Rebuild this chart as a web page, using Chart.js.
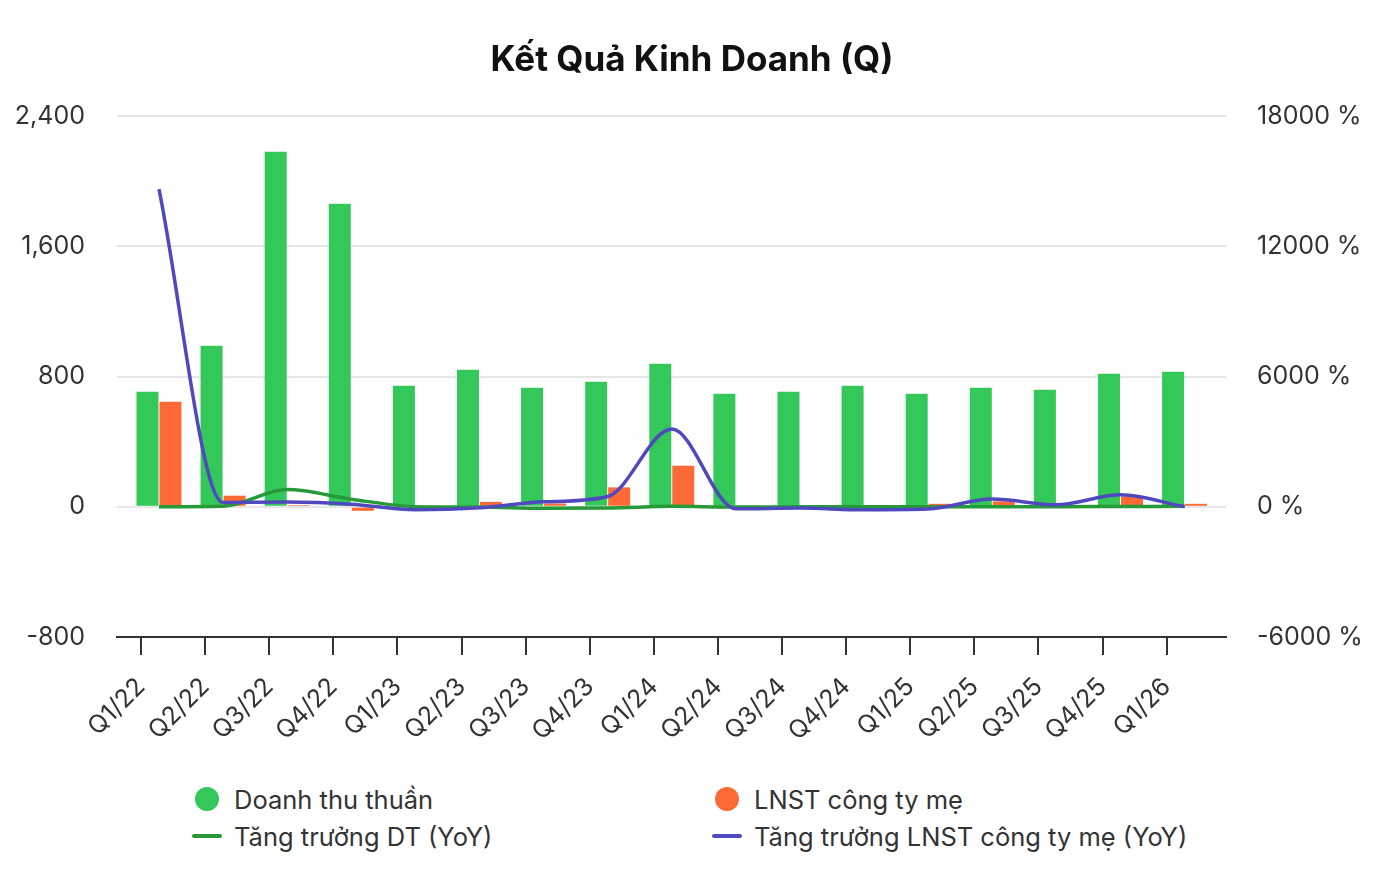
<!DOCTYPE html>
<html>
<head>
<meta charset="utf-8">
<script src="https://cdn.jsdelivr.net/npm/chart.js@4.4.1/dist/chart.umd.min.js"></script>
<style>
  body { margin: 0; background: #fff; font-family: Inter, "Noto Sans", sans-serif; }
  #wrap { position: relative; width: 1384px; height: 896px; }
  #box { position: absolute; left: 0; top: 0; width: 1384px; height: 760px; }
  #legend {
    position: absolute; left: 192px; top: 785px;
    display: grid; grid-template-columns: 520px auto; row-gap: 9px;
    font-size: 25.5px; color: #333;
  }
  .item { display: flex; align-items: center; height: 28px; white-space: nowrap; }
  .mark { width: 30px; margin-right: 12px; display: flex; justify-content: center; align-items: center; }
  .dot { width: 24px; height: 24px; border-radius: 50%; }
  .dash { width: 30px; height: 4px; border-radius: 2px; }
</style>
</head>
<body>
<div id="wrap">
  <div id="box"><canvas id="chart"></canvas></div>
  <div id="legend"></div>
</div>
<script>
// -------------------- DATA --------------------
const quarters = ["Q1/22", "Q2/22", "Q3/22", "Q4/22", "Q1/23", "Q2/23", "Q3/23", "Q4/23",
  "Q1/24", "Q2/24", "Q3/24", "Q4/24", "Q1/25", "Q2/25", "Q3/25", "Q4/25", "Q1/26"];
const revenue = [706, 989, 2180, 1861, 743, 841, 731, 768, 878, 694, 706, 743, 694, 731, 719, 817, 829];
const profit = [645, 68, 10, -25, 3, 30, 20, 119, 252, 3, 4, 3, 18, 33, 8, 63, 18];
const revenueYoY = [0, 20, 790, 350, 5, -15, -66, -59, 18, -17, -3, 0, 0, 5, 2, 12, 19];
const profitYoY = [14630, 200, 220, 120, -140, -50, 230, 475, 3585, -92, -60, -140, -107, 355, 92, 554, 0];
const leftTicks = [-800, 0, 800, 1600, 2400];
const rightTicks = [-6000, 0, 6000, 12000, 18000];

const GREEN = "#34c759";
const ORANGE = "#fd6a35";
const GREEN_LINE = "#269a38";
const BLUE_LINE = "#5048be";

// quarter index -> {x, y}
const pts = (arr) => arr.map((v, i) => ({ x: i, y: v }));

// x range a bit wider than the quarters, tick marks sit left of each group
const X_MIN = -0.655, X_MAX = 16.646, TICK_SHIFT = 0.28;

Chart.defaults.font.family = "Inter, 'Noto Sans', sans-serif";
Chart.defaults.color = "#333";

const datasets = [
  { type: "bar", label: "Doanh thu thuần", data: pts(revenue), backgroundColor: GREEN,
    yAxisID: "y", order: 2, categoryPercentage: 0.718, barPercentage: 0.956 },
  { type: "bar", label: "LNST công ty mẹ", data: pts(profit), backgroundColor: ORANGE,
    yAxisID: "y", order: 2, categoryPercentage: 0.718, barPercentage: 0.956 },
  { type: "line", label: "Tăng trưởng DT (YoY)", data: pts(revenueYoY), borderColor: GREEN_LINE,
    backgroundColor: GREEN_LINE, borderWidth: 3.5, pointRadius: 0, cubicInterpolationMode: "monotone",
    yAxisID: "y1", order: 1 },
  { type: "line", label: "Tăng trưởng LNST công ty mẹ (YoY)", data: pts(profitYoY), borderColor: BLUE_LINE,
    backgroundColor: BLUE_LINE, borderWidth: 3.5, pointRadius: 0, cubicInterpolationMode: "monotone",
    yAxisID: "y1", order: 0 },
];

const chart = new Chart(document.getElementById("chart"), {
  data: { datasets },
  options: {
    responsive: true,
    maintainAspectRatio: false,
    animation: false,
    layout: { padding: 0 },
    plugins: {
      legend: { display: false },
      tooltip: { enabled: false },
      title: {
        display: true,
        text: "Kết Quả Kinh Doanh (Q)",
        color: "#111",
        font: { size: 35, weight: "bold" },
        padding: { top: 39, bottom: 35 },
      },
    },
    scales: {
      x: {
        type: "linear", position: "bottom", min: X_MIN, max: X_MAX, offset: false,
        afterBuildTicks: (s) => { s.ticks = quarters.map((q, i) => ({ value: i - TICK_SHIFT })); },
        afterFit: (s) => { s.height = 123; },
        ticks: {
          autoSkip: false, minRotation: 45, maxRotation: 45, padding: 17,
          font: { size: 25 }, color: "#333",
          callback: (v, i) => quarters[i],
        },
        grid: { offset: false, drawOnChartArea: false, tickLength: 18, color: "#333", lineWidth: 2 },
        border: { color: "#333", width: 2 },
      },
      y: {
        position: "left", min: leftTicks[0], max: leftTicks[leftTicks.length - 1],
        afterBuildTicks: (s) => { s.ticks = leftTicks.map((v) => ({ value: v })); },
        afterFit: (s) => { s.width = 117; },
        ticks: { padding: 32, font: { size: 25 }, color: "#333",
          callback: (v) => v.toLocaleString("en-US") },
        grid: { color: "#e6e6e6", lineWidth: 2, drawTicks: false },
        border: { display: false },
      },
      y1: {
        position: "right", min: rightTicks[0], max: rightTicks[rightTicks.length - 1],
        afterBuildTicks: (s) => { s.ticks = rightTicks.map((v) => ({ value: v })); },
        afterFit: (s) => { s.width = 158; },
        ticks: { padding: 31, font: { size: 25 }, color: "#333", callback: (v) => v + " %" },
        grid: { drawOnChartArea: false, drawTicks: false },
        border: { display: false },
      },
    },
  },
});

// -------------------- LEGEND (two columns) --------------------
const legendEl = document.getElementById("legend");
chart.data.datasets.forEach((ds) => {
  const item = document.createElement("div");
  item.className = "item";
  const mark = ds.type === "bar"
    ? `<span class="dot" style="background:${ds.backgroundColor}"></span>`
    : `<span class="dash" style="background:${ds.borderColor}"></span>`;
  item.innerHTML = `<span class="mark">${mark}</span><span>${ds.label}</span>`;
  legendEl.appendChild(item);
});
</script>
</body>
</html>
